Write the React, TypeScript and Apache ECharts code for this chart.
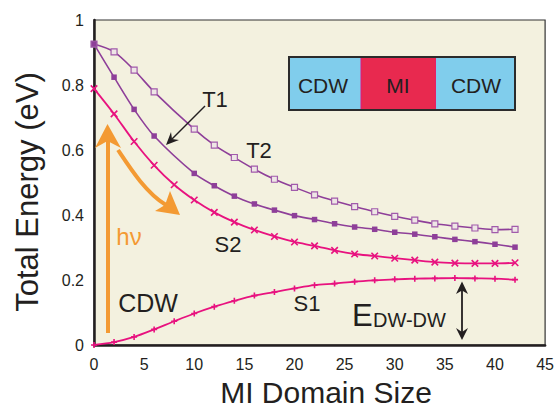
import React, { useEffect, useRef } from "react";
import * as echarts from "echarts";

const domainSize = [0, 2, 4, 6, 8, 10, 12, 14, 16, 18, 20, 22, 24, 26, 28, 30, 32, 34, 36, 38, 40, 42];
const t2Values = [0.926, 0.902, 0.846, 0.779, null, 0.664, 0.615, 0.577, 0.541, 0.510, 0.485, 0.462, 0.443, 0.426, 0.410, 0.396, 0.384, 0.373, 0.366, 0.360, 0.355, 0.356];
const t1Values = [0.926, 0.824, 0.725, 0.643, null, 0.528, 0.490, 0.458, 0.434, 0.415, 0.398, 0.386, 0.373, 0.363, 0.356, 0.347, 0.341, 0.333, 0.325, 0.318, 0.310, 0.301];
const s2Values = [0.789, 0.711, 0.626, 0.553, 0.493, 0.446, 0.408, 0.378, 0.354, 0.334, 0.317, 0.305, 0.291, 0.280, 0.274, 0.267, 0.261, 0.255, 0.252, 0.251, 0.251, 0.253];
const s1Values = [0, 0.009, 0.025, 0.048, 0.073, 0.097, 0.118, 0.136, 0.152, 0.163, 0.174, 0.184, 0.189, 0.195, 0.199, 0.202, 0.204, 0.205, 0.206, 0.205, 0.204, 0.201];
const xTicks = [0, 5, 10, 15, 20, 25, 30, 35, 40, 45];
const yTicks = [0, 0.2, 0.4, 0.6, 0.8, 1];

const FONT = "Liberation Sans, Arial, Helvetica, sans-serif";
const PURPLE = "#8E3F99";
const PURPLE_LIGHT = "#A15BAB";
const MAGENTA = "#E8127F";
const ORANGE = "#F39A33";

function pairs(vals: (number | null)[]) {
  const out: [number, number][] = [];
  vals.forEach((v, i) => {
    if (v !== null) out.push([domainSize[i], v]);
  });
  return out;
}

export default function App() {
  const ref = useRef<HTMLDivElement>(null);
  useEffect(() => {
    if (!ref.current) return;
    const chart = echarts.init(ref.current, null, { renderer: "svg" });
    const txt = (x: number, y: number, text: string, size: number, color = "#231F20", align = "center") => ({
      type: "text",
      x,
      y,
      z: 50,
      style: { text, fontSize: size, fontFamily: FONT, fill: color, align, verticalAlign: "middle" },
    });
    chart.setOption({
      animation: false,
      backgroundColor: "#ffffff",
      grid: {
        left: 94,
        right: 9,
        top: 20,
        bottom: 65,
        show: true,
        backgroundColor: "#F3F1DF",
        borderColor: "#333",
        borderWidth: 1.2,
      },
      xAxis: {
        type: "value",
        min: 0,
        max: 45,
        interval: 5,
        axisLine: { show: true, onZero: false, lineStyle: { color: "#231F20", width: 2.5 } },
        axisTick: { show: false },
        splitLine: { show: false },
        axisLabel: {
          fontSize: 16,
          fontFamily: FONT,
          color: "#231F20",
          margin: 11,
          formatter: (v: number) => (xTicks.includes(v) ? String(v) : ""),
        },
      },
      yAxis: {
        type: "value",
        min: 0,
        max: 1,
        interval: 0.2,
        axisLine: { show: true, onZero: false, lineStyle: { color: "#231F20", width: 2.5 } },
        axisTick: { show: false },
        splitLine: { show: false },
        axisLabel: {
          fontSize: 16,
          fontFamily: FONT,
          color: "#231F20",
          margin: 10,
          formatter: (v: number) => {
            const t = yTicks.find((y) => Math.abs(y - v) < 1e-6);
            return t === undefined ? "" : String(t);
          },
        },
      },
      series: [
        {
          name: "T2",
          type: "line",
          data: pairs(t2Values),
          smooth: 0.3,
          symbol: "rect",
          symbolSize: 6,
          lineStyle: { color: PURPLE, width: 1.6 },
          itemStyle: { color: "#EEE6E6", borderColor: PURPLE_LIGHT, borderWidth: 1.2 },
          z: 3,
        },
        {
          name: "T1",
          type: "line",
          data: pairs(t1Values),
          smooth: 0.3,
          symbol: "rect",
          symbolSize: 5.5,
          lineStyle: { color: PURPLE, width: 1.6 },
          itemStyle: { color: PURPLE },
          z: 3,
        },
        {
          name: "S2",
          type: "line",
          data: pairs(s2Values),
          smooth: 0.3,
          symbol: "path://M0,0L10,10M10,0L0,10",
          symbolSize: 6.5,
          lineStyle: { color: MAGENTA, width: 1.8 },
          itemStyle: { color: "none", borderColor: MAGENTA, borderWidth: 1.6 },
          z: 3,
        },
        {
          name: "S1",
          type: "line",
          data: pairs(s1Values),
          smooth: 0.3,
          symbol: "path://M5,0L5,10M0,5L10,5",
          symbolSize: 6,
          lineStyle: { color: MAGENTA, width: 1.8 },
          itemStyle: { color: "none", borderColor: MAGENTA, borderWidth: 1.6 },
          z: 3,
        },
      ],
      graphic: [
        // axis titles
        txt(326, 392, "MI Domain Size", 30),
        {
          type: "text",
          x: 27,
          y: 192,
          rotation: Math.PI / 2,
          z: 50,
          style: { text: "Total Energy (eV)", fontSize: 31, fontFamily: FONT, fill: "#231F20", align: "center", verticalAlign: "middle" },
        },
        // inset box
        { type: "rect", shape: { x: 289, y: 57, width: 72, height: 53 }, style: { fill: "#80CDEC", stroke: "none" }, z: 40 },
        { type: "rect", shape: { x: 361, y: 57, width: 75, height: 53 }, style: { fill: "#E8294F", stroke: "#E0197F", lineWidth: 1 }, z: 40 },
        { type: "rect", shape: { x: 436, y: 57, width: 79, height: 53 }, style: { fill: "#80CDEC", stroke: "none" }, z: 40 },
        { type: "rect", shape: { x: 289, y: 57, width: 226, height: 53 }, style: { fill: "none", stroke: "#2B2B2B", lineWidth: 2 }, z: 41 },
        txt(323, 85, "CDW", 21),
        txt(398, 85, "MI", 21),
        txt(476, 85, "CDW", 21),
        // curve labels
        txt(215, 99, "T1", 22),
        txt(259, 150, "T2", 22),
        txt(228, 244, "S2", 22),
        txt(307, 303, "S1", 22),
        txt(148, 303, "CDW", 25),
        txt(129, 236, "hν", 24, ORANGE),
        txt(352, 315, "E", 31, "#231F20", "left"),
        txt(373, 320, "DW-DW", 20, "#231F20", "left"),
        // T1 arrow
        { type: "line", shape: { x1: 205, y1: 106, x2: 172, y2: 139 }, style: { stroke: "#231F20", lineWidth: 1.5 }, z: 45 },
        { type: "polygon", shape: { points: [[166, 145], [171, 132], [172, 139], [179, 140]] }, style: { fill: "#231F20" }, z: 45 },
        // orange vertical arrow
        { type: "line", shape: { x1: 108, y1: 333, x2: 108, y2: 140 }, style: { stroke: ORANGE, lineWidth: 4 }, z: 45 },
        { type: "polygon", shape: { points: [[107.5, 124], [121, 148], [107.5, 141], [95, 148]] }, style: { fill: ORANGE }, z: 45 },
        // orange curved arrow
        {
          type: "bezierCurve",
          shape: { x1: 118, y1: 150, cpx1: 130, cpy1: 168, cpx2: 146, cpy2: 193, x2: 166, y2: 205 },
          style: { stroke: ORANGE, lineWidth: 4, fill: "none" },
          z: 45,
        },
        { type: "polygon", shape: { points: [[180, 215], [155, 211], [165, 205], [170, 191]] }, style: { fill: ORANGE }, z: 45 },
        // E_DW-DW double arrow
        { type: "line", shape: { x1: 462, y1: 290, x2: 462, y2: 332 }, style: { stroke: "#231F20", lineWidth: 1.8 }, z: 45 },
        { type: "polygon", shape: { points: [[462, 281.5], [468, 294], [462, 290.5], [456, 294]] }, style: { fill: "#231F20" }, z: 45 },
        { type: "polygon", shape: { points: [[462, 340], [468, 328], [462, 332], [456, 328]] }, style: { fill: "#231F20" }, z: 45 },
      ],
    });
    return () => chart.dispose();
  }, []);
  return <div ref={ref} style={{ width: 557, height: 410, position: "absolute", left: 0, top: 0 }} />;
}
